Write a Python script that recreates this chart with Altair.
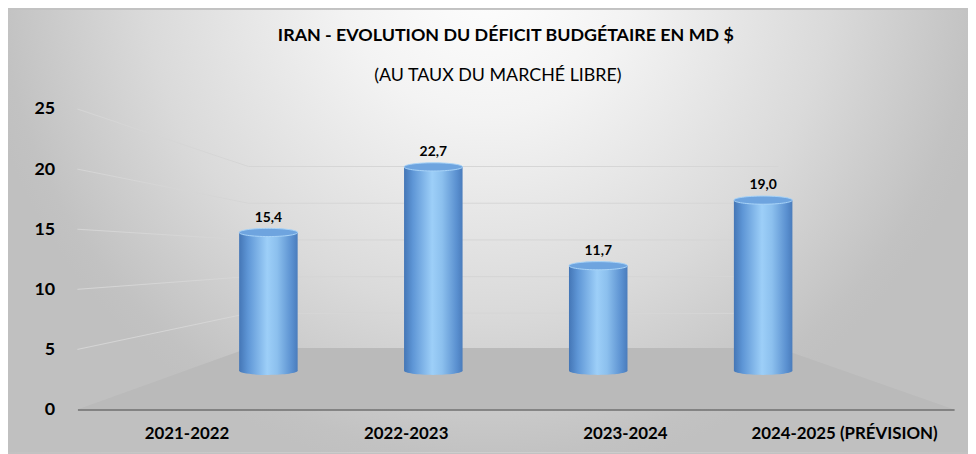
import altair as alt
import pandas as pd

# ---- data ----
categories = ["2021-2022", "2022-2023", "2023-2024", "2024-2025 (PRÉVISION)"]
values = [15.4, 22.7, 11.7, 19.0]
y_ticks = [0, 5, 10, 15, 20, 25]
grid_levels = [5, 10, 15, 20, 25]
title_text = "IRAN - EVOLUTION DU DÉFICIT BUDGÉTAIRE EN MD $"
subtitle_text = "(AU TAUX DU MARCHÉ LIBRE)"

# ---- 3D frame geometry (fractions of plot width / axis units) ----
BACK_LEFT = 0.195
BACK_RIGHT = 0.80
BACK_BASE = 4.95
BACK_SHRINK = 0.6106
FLOOR_TOP = 5.12

W, H = 884, 303
PAD = {"left": 70, "top": 100, "right": 14, "bottom": 43}
FONT = "Lato"
BAR_W = 59
ELLIPSE = "M -1 0 A 1 0.14 0 1 1 1 0 A 1 0.14 0 1 1 -1 0 Z"
TITLE_X = 432
SUBTITLE_X = 424

bars_df = pd.DataFrame({"cat": categories, "v": values})
bars_df["base"] = 0.0
bars_df["label"] = [f"{v:.1f}".replace(".", ",") for v in values]

floor_df = pd.DataFrame({"fx": [0.0, BACK_LEFT, BACK_RIGHT, 1.0],
                         "fy": [0.0, FLOOR_TOP, FLOOR_TOP, 0.0]})

grid_rows = []
for lv in grid_levels:
    back = BACK_BASE + BACK_SHRINK * lv
    for k, (gx, gy) in enumerate([(0.0, lv), (BACK_LEFT, back), (BACK_RIGHT, back)]):
        grid_rows.append({"lvl": lv, "k": k, "gx": gx, "gy": gy})
grid_df = pd.DataFrame(grid_rows)

axis_df = pd.DataFrame({"cat": categories, "v": values})

# ---- background ----
bg_grad = alt.Gradient(
    gradient="radial",
    x1=0.5, y1=0.224, r1=0,
    x2=0.5, y2=0.224, r2=0.537,
    stops=[
        alt.GradientStop(color="#ffffff", offset=0),
        alt.GradientStop(color="#f3f3f3", offset=0.29),
        alt.GradientStop(color="#dadada", offset=0.67),
        alt.GradientStop(color="#c2c2c2", offset=0.95),
        alt.GradientStop(color="#c0c0c0", offset=1),
    ],
)
bg = alt.Chart(pd.DataFrame({"a": [0]})).mark_rect(fill=bg_grad).encode(
    x=alt.value(-PAD["left"]), x2=alt.value(W + PAD["right"]),
    y=alt.value(-PAD["top"]), y2=alt.value(H + PAD["bottom"]),
)

# ---- titles ----
title_mark = alt.Chart(pd.DataFrame({"t": [title_text]})).mark_text(
    font=FONT, fontSize=18, fontWeight="bold", color="#000000",
    align="center", baseline="alphabetic",
).encode(x=alt.value(TITLE_X), y=alt.value(-69), text="t:N")

subtitle_mark = alt.Chart(pd.DataFrame({"t": [subtitle_text]})).mark_text(
    font=FONT, fontSize=18, fontWeight="normal", color="#000000",
    align="center", baseline="alphabetic",
).encode(x=alt.value(SUBTITLE_X), y=alt.value(-28), text="t:N")

frame_x = alt.Scale(domain=[0, 1], nice=False, zero=False)
front_y = alt.Scale(domain=[0, 25], nice=False, zero=False)

grid = alt.Chart(grid_df).mark_line(color="#d6d6d6", strokeWidth=1).encode(
    x=alt.X("gx:Q", scale=frame_x, axis=None),
    y=alt.Y("gy:Q", scale=front_y, axis=None),
    detail="lvl:N",
    order="k:Q",
)

floor = alt.Chart(floor_df).mark_area(color="#bababa", opacity=1).encode(
    x=alt.X("fx:Q", scale=frame_x, axis=None),
    y=alt.Y("fy:Q", scale=front_y, axis=None),
)

axis_layer = alt.Chart(axis_df).mark_point(opacity=0).encode(
    x=alt.X("cat:N", sort=categories,
            scale=alt.Scale(type="band", paddingInner=0, paddingOuter=0),
            axis=alt.Axis(title=None, labelAngle=0, ticks=False, domain=True,
                          domainColor="#6f6f6f", domainWidth=1.5,
                          labelFont=FONT, labelFontSize=17, labelFontWeight="bold",
                          labelColor="#000000", labelPadding=16, labelLimit=400,
                          grid=False, zindex=1)),
    y=alt.Y("v:Q", scale=front_y,
            axis=alt.Axis(title=None, values=y_ticks, ticks=False, domain=False,
                          grid=False, labelFont=FONT, labelFontSize=18,
                          labelFontWeight="bold", labelColor="#000000",
                          labelPadding=23, zindex=1)),
)

# ---- cylinders ----
bar_x = alt.Scale(type="band", paddingInner=0, paddingOuter=0.658)
bar_y = alt.Scale(domain=[-4.305, 29.14], nice=False, zero=False)

cyl_grad = alt.Gradient(
    gradient="linear", x1=0, y1=0, x2=1, y2=0,
    stops=[
        alt.GradientStop(color="#4476b6", offset=0),
        alt.GradientStop(color="#5e96d6", offset=0.15),
        alt.GradientStop(color="#9dcff8", offset=0.48),
        alt.GradientStop(color="#8cc0ee", offset=0.65),
        alt.GradientStop(color="#5a90d0", offset=0.9),
        alt.GradientStop(color="#4a7cbc", offset=1),
    ],
)

xb = alt.X("cat:N", sort=categories, scale=bar_x, axis=None)

bottom_ell = alt.Chart(bars_df).mark_point(
    shape=ELLIPSE, size=BAR_W * BAR_W, filled=True, fill=cyl_grad,
    opacity=1, strokeWidth=0,
).encode(x=xb, y=alt.Y("base:Q", scale=bar_y, axis=None))

bars = alt.Chart(bars_df).mark_bar(size=BAR_W, fill=cyl_grad).encode(
    x=xb, y=alt.Y("v:Q", scale=bar_y, axis=None),
)

top_ell = alt.Chart(bars_df).mark_point(
    shape=ELLIPSE, size=BAR_W * BAR_W, filled=True, fill="#6ea4df",
    stroke="#a9d3f7", strokeWidth=1, opacity=1,
).encode(x=xb, y=alt.Y("v:Q", scale=bar_y, axis=None))

labels = alt.Chart(bars_df).mark_text(
    font=FONT, fontSize=14, fontWeight="bold", color="#000000",
    baseline="alphabetic", dy=-11,
).encode(x=xb, y=alt.Y("v:Q", scale=bar_y, axis=None), text="label:N")

bar_group = alt.layer(bottom_ell, bars, top_ell, labels)

chart = alt.layer(bg, title_mark, subtitle_mark, grid, floor, axis_layer, bar_group).resolve_scale(
    x="independent", y="independent"
).properties(
    width=W, height=H,
    padding=PAD,
    autosize=alt.AutoSizeParams(type="none"),
).configure_view(stroke=None).configure(background="#c2c2c2")

chart.save("out.html", embed_options={"renderer": "svg", "actions": False})
